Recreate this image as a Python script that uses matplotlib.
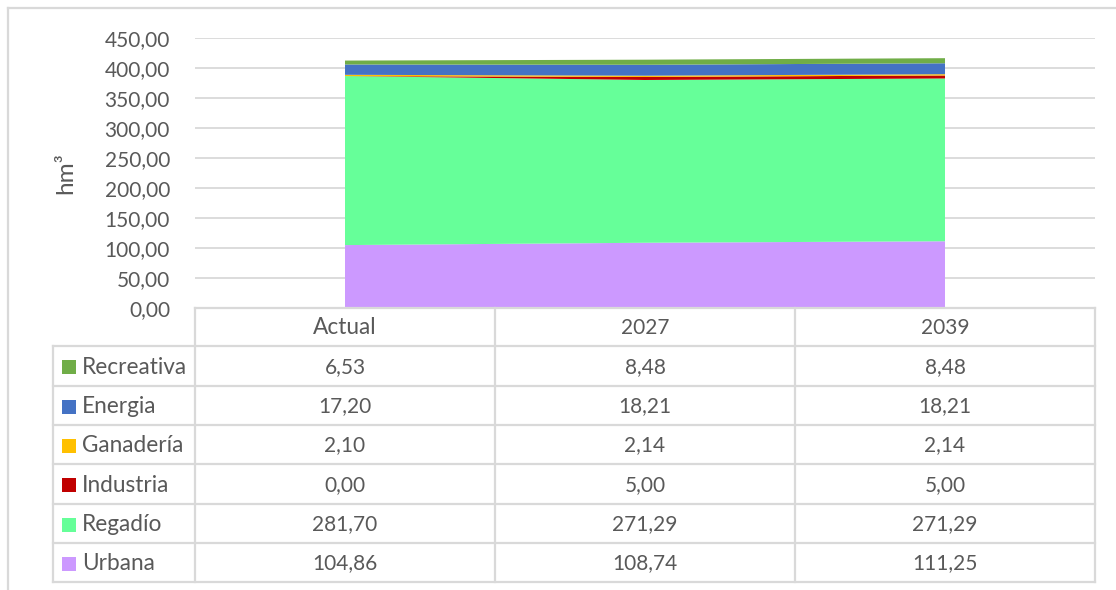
import matplotlib
matplotlib.use("Agg")
import matplotlib.pyplot as plt
from matplotlib.patches import Rectangle
from matplotlib.lines import Line2D
import numpy as np

categories = ["Actual", "2027", "2039"]
series_names = ["Urbana", "Regadío", "Industria", "Ganadería", "Energia", "Recreativa"]
urbana = [104.86, 108.74, 111.25]
regadio = [281.70, 271.29, 271.29]
industria = [0.00, 5.00, 5.00]
ganaderia = [2.10, 2.14, 2.14]
energia = [17.20, 18.21, 18.21]
recreativa = [6.53, 8.48, 8.48]
colors = ["#CC99FF", "#66FF99", "#C00000", "#FFC000", "#4472C4", "#70AD47"]
yticks = [0, 50, 100, 150, 200, 250, 300, 350, 400, 450]

plt.rcParams['font.family'] = ['Lato', 'DejaVu Sans']
TXT = "#595959"
GRID = "#D9D9D9"
NUM_FS = 15
WORD_FS = 16.3

W, H = 1116, 590
fig = plt.figure(figsize=(W / 100, H / 100), dpi=100)

def fx(x): return x / W
def fy(y): return 1 - y / H

# main axes
x0, x1 = 195, 1095
ytop, ybot = 38, 308
ax = fig.add_axes([fx(x0), fy(ybot), fx(x1) - fx(x0), fy(ytop) - fy(ybot)])
values = [urbana, regadio, industria, ganaderia, energia, recreativa]
xs = np.arange(len(categories))
ax.stackplot(xs, *values, colors=colors, linewidth=0)
ax.set_xlim(-0.5, len(categories) - 0.5)
ax.set_ylim(0, 450)
ax.set_yticks(yticks)
ax.set_yticklabels([f"{v:.2f}".replace(".", ",") for v in yticks], fontsize=NUM_FS, color=TXT)
ax.tick_params(axis='y', length=0, pad=18)
ax.set_xticks([])
for s in ax.spines.values():
    s.set_visible(False)
ax.grid(axis='y', color=GRID, linewidth=1.3)
ax.set_axisbelow(True)
ax.set_ylabel("hm³", fontsize=17.5, color=TXT)
ax.yaxis.set_label_coords(-0.132, 0.5)

# overlay for table and border
ov = fig.add_axes([0, 0, 1, 1])
ov.set_xlim(0, W)
ov.set_ylim(H, 0)
ov.axis('off')

lw = 1.6
ov.add_line(Line2D([8, W], [8, 8], color=GRID, lw=lw))
ov.add_line(Line2D([8, 8], [8, H], color=GRID, lw=lw))

col_edges = [195, 495, 795, 1095]
leg_left = 53
row_edges = [308, 346, 386, 425, 464, 504, 543, 582]

ov.add_line(Line2D([col_edges[0], col_edges[-1]], [row_edges[0], row_edges[0]], color=GRID, lw=lw))
for ce in col_edges:
    ov.add_line(Line2D([ce, ce], [row_edges[0], row_edges[-1]], color=GRID, lw=lw))
ov.add_line(Line2D([leg_left, leg_left], [row_edges[1], row_edges[-1]], color=GRID, lw=lw))
for re in row_edges[1:]:
    ov.add_line(Line2D([leg_left, col_edges[-1]], [re, re], color=GRID, lw=lw))

for j, c in enumerate(categories):
    fs = NUM_FS if c[0].isdigit() else WORD_FS
    ov.text((col_edges[j] + col_edges[j + 1]) / 2, (row_edges[0] + row_edges[1]) / 2 + 1, c,
            ha='center', va='center', fontsize=fs, color=TXT)

order = list(range(len(series_names)))[::-1]
for i, k in enumerate(order):
    yc = (row_edges[i + 1] + row_edges[i + 2]) / 2 + 1
    ov.add_patch(Rectangle((62, yc - 7), 14, 14, color=colors[k], lw=0))
    ov.text(82, yc, series_names[k], ha='left', va='center', fontsize=WORD_FS, color=TXT)
    for j in range(len(categories)):
        ov.text((col_edges[j] + col_edges[j + 1]) / 2, yc, f"{values[k][j]:.2f}".replace(".", ","),
                ha='center', va='center', fontsize=NUM_FS, color=TXT)

fig.savefig("out.png", dpi=100)
